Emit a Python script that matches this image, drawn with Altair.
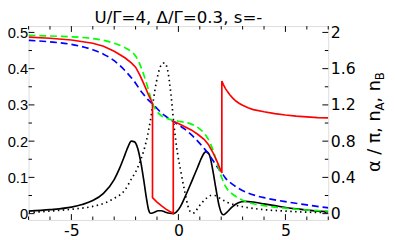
import altair as alt
import pandas as pd

# ---------------- data ----------------
x_green = [-7, -6, -5, -4, -3.5, -3, -2.5, -2.2, -2, -1.8, -1.6, -1.4, -1.25, -1.0, -0.8, -0.5, -0.25, 0, 0.3, 0.6, 0.9, 1.2, 1.4, 1.6, 1.8, 2.0, 2.2, 2.5, 2.8, 3.2, 3.6, 4, 4.5, 5, 6, 7]
v_green = [0.492, 0.490, 0.488, 0.483, 0.478, 0.470, 0.458, 0.447, 0.435, 0.412, 0.380, 0.342, 0.310, 0.282, 0.270, 0.262, 0.258, 0.255, 0.252, 0.247, 0.238, 0.222, 0.205, 0.178, 0.140, 0.103, 0.075, 0.055, 0.043, 0.032, 0.026, 0.022, 0.018, 0.015, 0.010, 0.007]

x_blue = [-7, -6, -5, -4, -3.5, -3, -2.5, -2.2, -2, -1.8, -1.6, -1.4, -1.25, -1.0, -0.8, -0.5, -0.25, 0, 0.3, 0.6, 0.9, 1.2, 1.4, 1.6, 1.8, 2.0, 2.2, 2.5, 2.8, 3.2, 3.6, 4, 4.5, 5, 6, 7]
v_blue = [0.478, 0.474, 0.467, 0.452, 0.440, 0.422, 0.395, 0.375, 0.360, 0.342, 0.327, 0.313, 0.305, 0.290, 0.278, 0.265, 0.255, 0.245, 0.233, 0.218, 0.200, 0.180, 0.165, 0.148, 0.130, 0.115, 0.098, 0.082, 0.070, 0.058, 0.050, 0.044, 0.038, 0.033, 0.024, 0.016]

x_red = [-7, -6, -5, -4, -3.5, -3, -2.5, -2.2, -2, -1.8, -1.6, -1.4, -1.21,
         -1.21, -1.0, -0.8, -0.6, -0.4, -0.24,
         -0.24, 0, 0.3, 0.6, 0.9, 1.2, 1.4, 1.6, 1.8, 2.03,
         2.03, 2.1, 2.2, 2.3, 2.4, 2.55, 2.7, 2.85, 3.0, 3.25, 3.5, 4, 4.5, 5, 5.5, 6, 6.5, 7]
v_red = [0.487, 0.484, 0.479, 0.470, 0.462, 0.448, 0.430, 0.416, 0.404, 0.382, 0.356, 0.328, 0.304,
         0.044, 0.032, 0.022, 0.013, 0.006, 0.001,
         0.255, 0.249, 0.240, 0.231, 0.219, 0.205, 0.191, 0.170, 0.145, 0.112,
         0.366, 0.356, 0.345, 0.336, 0.328, 0.318, 0.310, 0.304, 0.299, 0.292, 0.287, 0.281, 0.276, 0.272, 0.269, 0.267, 0.265, 0.264]

x_solid = [-7, -6, -5, -4.5, -4, -3.5, -3, -2.75, -2.5, -2.35, -2.2, -2.05, -1.9, -1.75, -1.6, -1.5, -1.4, -1.3, -1.15, -0.95, -0.8, -0.6, -0.4, -0.25,
           -0.1, 0.1, 0.3, 0.5, 0.7, 0.9, 1.05, 1.2, 1.3, 1.45, 1.6, 1.75, 1.9, 2.0, 2.1, 2.25, 2.5, 2.8, 3.1, 3.5, 4, 4.5, 5, 5.5, 6, 6.5, 7]
v_solid = [0.007, 0.011, 0.018, 0.025, 0.036, 0.056, 0.094, 0.125, 0.162, 0.185, 0.200, 0.198, 0.180, 0.140, 0.085, 0.045, 0.012, 0.001, 0.003, 0.008, 0.008, 0.004, 0.001, 0.000,
           0.004, 0.020, 0.045, 0.072, 0.100, 0.128, 0.150, 0.167, 0.171, 0.162, 0.122, 0.070, 0.022, 0.003, -0.003, 0.003, 0.018, 0.030, 0.034, 0.032, 0.027, 0.022, 0.017, 0.013, 0.010, 0.007, 0.005]

x_dot = [-7, -6, -5, -4, -3.5, -3, -2.5, -2.2, -2, -1.75, -1.5, -1.3, -1.1, -0.95, -0.8, -0.65, -0.5, -0.35, -0.2, -0.05, 0.1, 0.3, 0.45, 0.6, 0.75, 0.9, 1.1, 1.3, 1.5, 1.7, 2.0, 2.3, 2.7, 3.2, 4, 5, 6, 7]
v_dot = [0.003, 0.007, 0.012, 0.020, 0.028, 0.042, 0.065, 0.095, 0.115, 0.150, 0.200, 0.260, 0.340, 0.385, 0.410, 0.416, 0.395, 0.330, 0.240, 0.170, 0.120, 0.060, 0.020, 0.003, 0.002, 0.015, 0.030, 0.042, 0.050, 0.050, 0.040, 0.031, 0.023, 0.017, 0.011, 0.007, 0.004, 0.003]

x_major = [-5, 0, 5]
x_minor = [-7, -6, -4, -3, -2, -1, 1, 2, 3, 4, 6, 7]
left_major = [0, 0.1, 0.2, 0.3, 0.4, 0.5]
left_minor = [0.05, 0.15, 0.25, 0.35, 0.45]
right_major = [0, 0.4, 0.8, 1.2, 1.6, 2.0]
right_minor = [0.2, 0.6, 1.0, 1.4, 1.8]

title_text = "U/Γ=4, Δ/Γ=0.3, s=-"
rtitle_pieces = ["α / π, n", "A", ", n", "B"]

# ---------------- layout ----------------
W, H = 306, 198
MAJ, MIN = 6, 3.5
FONT = "DejaVu Sans"

X_SCALE = alt.Scale(domain=[-7, 7], nice=False, zero=False)
Y_SCALE = alt.Scale(domain=[-0.0175, 0.5175], nice=False, zero=False)
R_SCALE = alt.Scale(domain=[-0.07, 2.07], nice=False, zero=False)

X_AXIS = alt.Axis(values=x_major, ticks=False, domain=False, grid=False, title=None,
                  labelFont=FONT, labelFontSize=16, labelPadding=3, labelColor="black",
                  labelExpr="datum.value < 0 ? '-' + abs(datum.value) : '' + datum.value")
Y_AXIS = alt.Axis(values=left_major, ticks=False, domain=False, grid=False, title=None,
                  labelFont="Liberation Sans", labelFontSize=15, labelPadding=1, labelColor="black",
                  labelExpr="datum.value == 0 ? '0' : format(datum.value, '.1f')")
R_AXIS = alt.Axis(values=right_major, orient="right", ticks=False, domain=False, grid=False, title=None,
                  labelFont=FONT, labelFontSize=16, labelPadding=2, labelColor="black",
                  labelExpr="format(datum.value, '~g')")

XE = alt.X("x:Q", scale=X_SCALE, axis=X_AXIS)
YE = alt.Y("v:Q", scale=Y_SCALE, axis=Y_AXIS)


def curve(xs, vs, color, dash=None, interp="monotone"):
    df = pd.DataFrame({"x": xs, "v": vs})
    kw = dict(color=color, strokeWidth=1.7, interpolate=interp, clip=True)
    if dash:
        kw["strokeDash"] = dash
    return alt.Chart(df).mark_line(**kw).encode(x=XE, y=YE)


def xticks(vals, top, length):
    df = pd.DataFrame({"x": vals})
    if top:
        return alt.Chart(df).mark_rule(color="black", strokeWidth=1).encode(
            x=XE, y=alt.value(0), y2=alt.value(length))
    return alt.Chart(df).mark_rule(color="black", strokeWidth=1).encode(
        x=XE, y=alt.value(H), y2=alt.value(H - length))


def lticks(vals, length):
    df = pd.DataFrame({"v": vals})
    return alt.Chart(df).mark_rule(color="black", strokeWidth=1).encode(
        y=YE, x=alt.value(0), x2=alt.value(length))


def rticks(vals, length):
    df = pd.DataFrame({"r": vals})
    return alt.Chart(df).mark_rule(color="black", strokeWidth=1).encode(
        y=alt.Y("r:Q", scale=R_SCALE, axis=R_AXIS), x=alt.value(W), x2=alt.value(W - length))


left_group = alt.layer(
    curve(x_dot, v_dot, "black", [1.5, 3.5]),
    curve(x_solid, v_solid, "black"),
    curve(x_blue, v_blue, "#0000ff", [7, 4]),
    curve(x_green, v_green, "#00ff00", [7, 4]),
    curve(x_red, v_red, "#ff0000", None, "linear"),
    xticks(x_major, False, MAJ), xticks(x_minor, False, MIN),
    xticks(x_major, True, MAJ), xticks(x_minor, True, MIN),
    lticks(left_major, MAJ), lticks(left_minor, MIN),
)

right_group = alt.layer(rticks(right_major, MAJ), rticks(right_minor, MIN))


def tpiece(text, size, xpos, ypos, angle=270, align="left"):
    df = pd.DataFrame({"t": [text]})
    return alt.Chart(df).mark_text(angle=angle, align=align, baseline="alphabetic",
                                   font=FONT, fontSize=size, color="black").encode(
        text="t:N", x=alt.value(xpos), y=alt.value(ypos))


BX, SX = 359, 362.5
title_layers = [
    tpiece(title_text, 17, W / 2, -3.5, angle=0, align="center"),
    tpiece(rtitle_pieces[0], 18, BX, 149),
    tpiece(rtitle_pieces[1], 12, SX, 86.3),
    tpiece(rtitle_pieces[2], 18, BX, 78.1),
    tpiece(rtitle_pieces[3], 12, SX, 55.2),
]

chart = alt.layer(left_group, right_group, *title_layers).resolve_scale(y="independent").properties(
    width=W, height=H,
    autosize=alt.AutoSizeParams(type="none"),
    padding={"left": 21, "top": 16, "right": 60, "bottom": 18},
).configure_view(stroke="black", strokeWidth=1).configure(background="white")

chart.save("out.html", embed_options={"renderer": "svg", "actions": False})
